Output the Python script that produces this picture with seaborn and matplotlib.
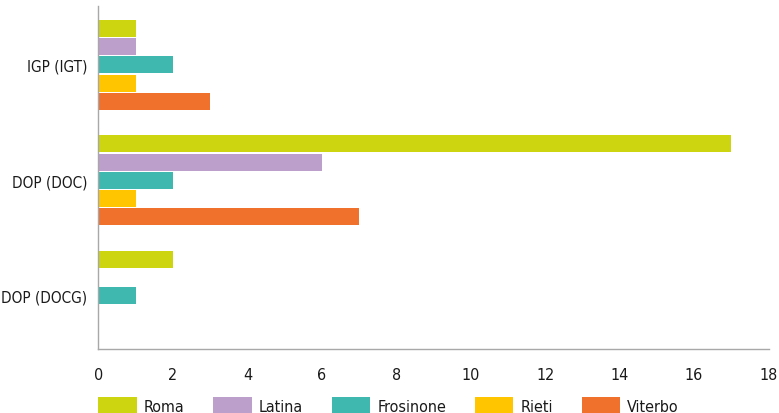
import matplotlib
matplotlib.use("Agg")
import matplotlib.pyplot as plt
import seaborn as sns
import pandas as pd

categories = ["IGP (IGT)", "DOP (DOC)", "DOP (DOCG)"]
provinces = ["Roma", "Latina", "Frosinone", "Rieti", "Viterbo"]
roma = [1, 17, 2]
latina = [1, 6, 0]
frosinone = [2, 2, 1]
rieti = [1, 1, 0]
viterbo = [3, 7, 0]
x_ticks = [0, 2, 4, 6, 8, 10, 12, 14, 16, 18]

colors = ["#CDD410", "#BC9FCB", "#3FB8B0", "#FFC600", "#F0712C"]

series = {"Roma": roma, "Latina": latina, "Frosinone": frosinone,
          "Rieti": rieti, "Viterbo": viterbo}
rows = []
for prov in provinces:
    for cat, v in zip(categories, series[prov]):
        rows.append({"categoria": cat, "provincia": prov, "valore": v})
df = pd.DataFrame(rows)

sns.set_theme(style="white")
plt.rcParams["font.family"] = ["DejaVu Sans"]
plt.rcParams["font.stretch"] = "condensed"

fig = plt.figure(figsize=(7.79, 4.14), dpi=100)
ax = fig.add_axes([98.5 / 779, 1 - 350 / 414, 670 / 779, 343 / 414])

sns.barplot(data=df, y="categoria", x="valore", hue="provincia",
            order=categories, hue_order=provinces, palette=colors,
            orient="h", width=0.79, gap=0.07, saturation=1,
            errorbar=None, ax=ax, legend=False, linewidth=0)

ax.set_xlim(0, 18)
ax.set_ylim(2.46, -0.51)
ax.set_xticks(x_ticks)
ax.set_xticklabels([str(t) for t in x_ticks])
ax.set_xlabel("")
ax.set_ylabel("")

for side in ["top", "right"]:
    ax.spines[side].set_visible(False)
for side in ["left", "bottom"]:
    ax.spines[side].set_color("#a8a8a8")
    ax.spines[side].set_linewidth(1.0)

ax.tick_params(axis="x", direction="in", length=8, width=1, color="#a8a8a8",
               labelsize=11.5, labelcolor="#1a1a1a", pad=13)
ax.tick_params(axis="y", length=0, labelsize=11, labelcolor="#1a1a1a", pad=8)

handles = [plt.Rectangle((0, 0), 1, 1, facecolor=c, edgecolor="none") for c in colors]
fig.legend(handles, provinces, loc="lower left",
           bbox_to_anchor=(84 / 779, -15 / 414), ncol=5, frameon=False,
           fontsize=11.5, handlelength=2.4, handleheight=1.2, handletextpad=0.45,
           columnspacing=1.8, labelcolor="#1a1a1a")

fig.savefig("out.png", dpi=100)
